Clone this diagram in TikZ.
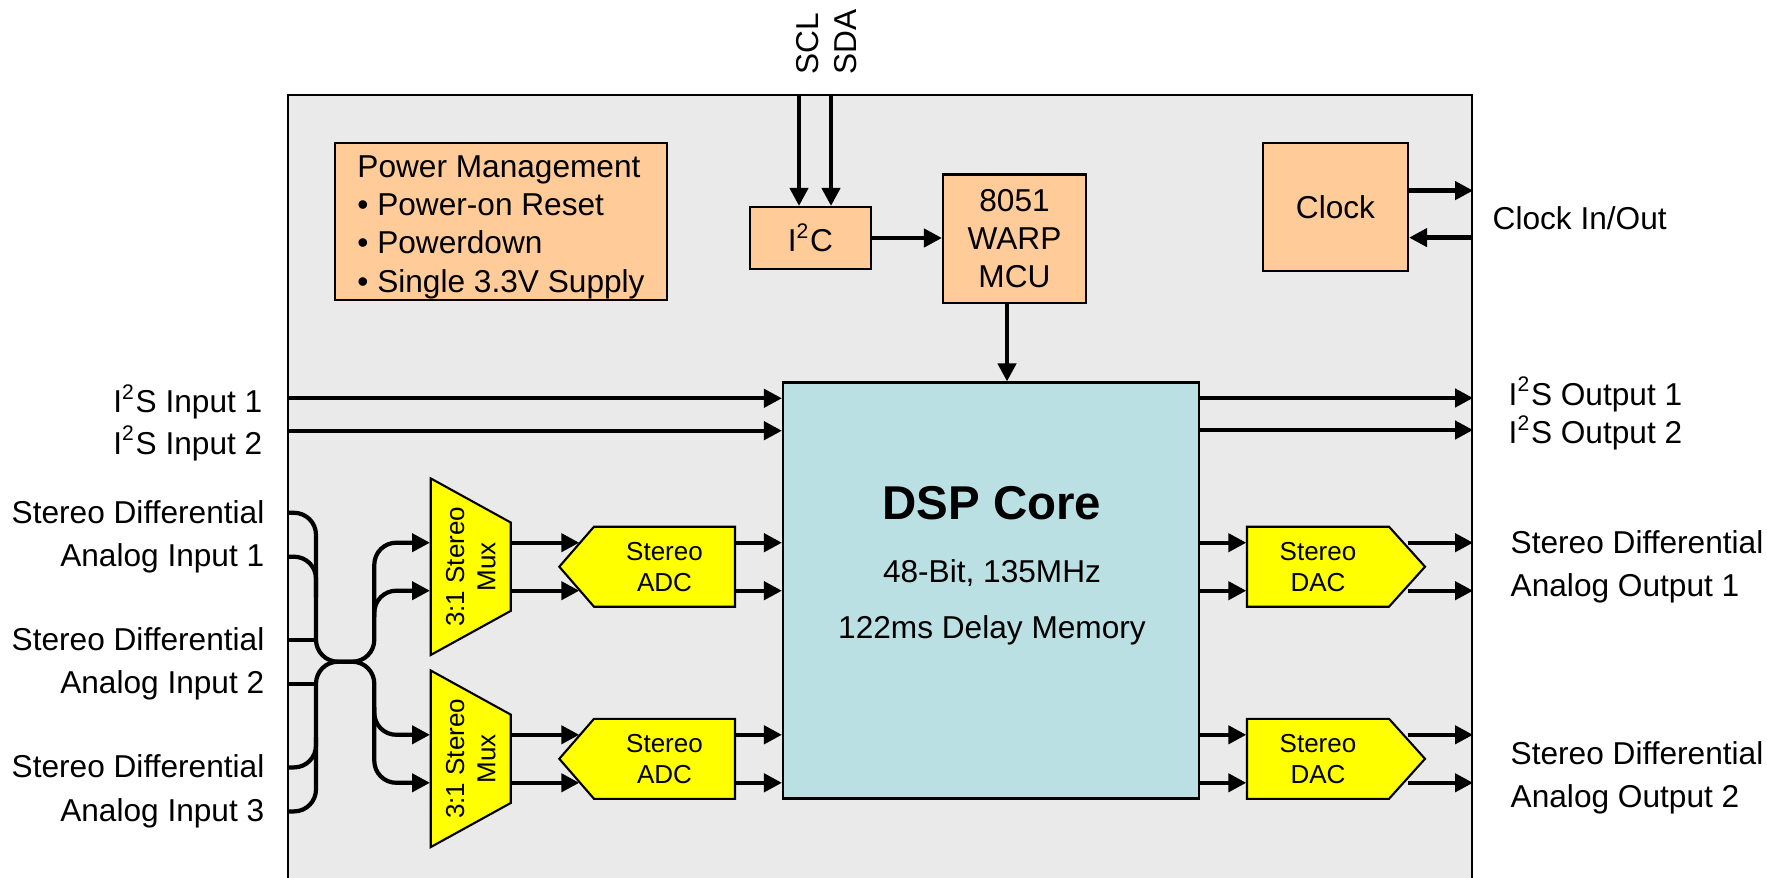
\documentclass[tikz,border=0pt]{standalone}
\usepackage{fontspec}
\setmainfont{Liberation Sans}
\usetikzlibrary{arrows.meta,positioning,calc}
\definecolor{Peach}{HTML}{FFCC99}
\definecolor{CoreBlue}{HTML}{BBE0E3}
\definecolor{ChipGrey}{HTML}{EAEAEA}
\definecolor{MuxYellow}{HTML}{FFFF00}
\tikzset{
  wire/.style={line width=1.2pt, rounded corners=0.22cm},
  sig/.style={wire, -{Triangle[length=0.18cm,width=0.18cm]}},
  lbl/.style={font=\fontsize{9}{12.4}\selectfont, inner sep=0pt},
  obox/.style={draw, line width=0.6pt, fill=Peach, font=\fontsize{9}{10.9}\selectfont, align=center, inner sep=0pt},
  ybox/.style={draw, line width=0.6pt, fill=MuxYellow},
  ytext/.style={font=\fontsize{7.4}{8.9}\selectfont, align=center, inner sep=0pt},
}

\begin{document}
\begin{tikzpicture}
    \useasboundingbox (0,0) rectangle (17.67,8.77);
    \clip (0,0) rectangle (17.67,8.77);
    % chip outline
    \node[draw, line width=0.6pt, fill=ChipGrey, minimum width=11.84cm, minimum height=8.1cm, inner sep=0pt] (chip) at (8.80,3.77) {};
    \node[obox, minimum width=3.32cm, minimum height=1.57cm] (power) at (5.01,6.555) {};
    \node[font=\fontsize{9}{10.9}\selectfont, align=left, inner sep=0pt] (powertext) at (5.01,6.50) {Power Management\\• Power-on Reset\\• Powerdown\\• Single 3.3V Supply};
    \node[obox, minimum width=1.21cm, minimum height=0.62cm] (i2c) at (8.105,6.39) {I\textsuperscript{2}C};
    \node[obox, minimum width=1.43cm, minimum height=1.285cm] (mcu) at (10.145,6.382) {8051\\WARP\\MCU};
    \node[obox, minimum width=1.45cm, minimum height=1.285cm] (clock) at (13.355,6.70) {Clock};
    \node[draw, line width=0.6pt, fill=CoreBlue, minimum size=4.16cm] (dsp) at (9.91,2.865) {};
    \node[font=\bfseries\fontsize{13.5}{16}\selectfont] (dsptitle) at (9.92,3.74) {DSP Core};
    \node[font=\fontsize{9}{10.9}\selectfont] (dspspeed) at (9.92,3.04) {48-Bit, 135MHz};
    \node[font=\fontsize{9}{10.9}\selectfont] (dspmem) at (9.92,2.47) {122ms Delay Memory};
    % control and clock
    \coordinate (scl) at ([xshift=-1.15mm]i2c.north);
    \coordinate (sda) at ([xshift=2.05mm]i2c.north);
    \draw[sig] (scl |- chip.north) -- (scl);
    \draw[sig] (sda |- chip.north) -- (sda);
    \node[rotate=90, anchor=west, align=left, inner sep=0pt, font=\fontsize{9}{10.8}\selectfont] (i2cbus) at (8.27,8.02) {SCL\\SDA};
    \draw[sig] (i2c.east) -- (i2c.east -| mcu.west);
    \coordinate (mcuout) at ([xshift=-0.75mm]mcu.south);
    \draw[sig] (mcuout) -- (mcuout |- dsp.north);
    \coordinate (clkout) at ([yshift=1.64mm]clock.east);
    \coordinate (clkin) at ([yshift=-3.06mm]clock.east);
    \draw[sig] (clkout) -- (clkout -| chip.east);
    \draw[sig] (clkin -| chip.east) -- (clkin);
    % analog paths
    \foreach \n/\y in {1/3.103,2/1.182} {
      \draw[ybox] (4.307,\y+0.883) -- (5.107,\y+0.442) -- (5.107,\y-0.442) -- (4.307,\y-0.883) -- cycle;
      \node[ytext, rotate=90, minimum width=1.767cm, minimum height=0.8cm] (mux\n) at (4.707,\y) {3:1 Stereo\\Mux};
      \draw[ybox] (5.593,\y) -- (5.94,\y+0.4) -- (7.35,\y+0.4) -- (7.35,\y-0.4) -- (5.94,\y-0.4) -- cycle;
      \node[ytext, minimum width=1.41cm, minimum height=0.8cm] (adc\n) at (6.645,\y) {Stereo\\ADC};
      \draw[ybox] (14.25,\y) -- (13.89,\y+0.4) -- (12.47,\y+0.4) -- (12.47,\y-0.4) -- (13.89,\y-0.4) -- cycle;
      \node[ytext, minimum width=1.42cm, minimum height=0.8cm] (dac\n) at (13.18,\y) {Stereo\\DAC};
      \foreach \d in {2.4,-2.4} {
        \coordinate (p) at ([yshift=\d mm]adc\n.west);
        \draw[sig] (p -| mux\n.south) -- ([xshift=-1.4mm]p);
        \coordinate (s) at ([yshift=\d mm]adc\n.east);
        \draw[sig] (s) -- (s -| dsp.west);
        \coordinate (q) at ([yshift=\d mm]dac\n.west);
        \draw[sig] (q -| dsp.east) -- (q);
        \coordinate (r) at ([yshift=\d mm, xshift=1.8mm]dac\n.east);
        \draw[sig] (r) -- (r -| chip.east);
      }
    }
    % input bus with crossover
    \coordinate (in1a) at (2.88,3.642);
    \coordinate (in1b) at (2.88,3.203);
    \coordinate (in2a) at (2.88,2.369);
    \coordinate (in2b) at (2.88,1.930);
    \coordinate (in3a) at (2.88,1.096);
    \coordinate (in3b) at (2.88,0.656);
    \coordinate (mx1a) at ([yshift=2.4mm]mux1.north);
    \coordinate (mx1b) at ([yshift=-2.4mm]mux1.north);
    \coordinate (mx2a) at ([yshift=2.4mm]mux2.north);
    \coordinate (mx2b) at ([yshift=-2.4mm]mux2.north);
    \draw[sig] (in1a) -- (3.16,3.642) -- (3.16,2.153) -- (3.743,2.153) -- (3.743,3.343) -- (mx1a);
    \draw[sig] (in3b) -- (3.16,0.656) -- (3.16,2.153) -- (3.743,2.153) -- (3.743,0.942) -- (mx2b);
    \draw[wire] (in1b) -- (3.16,3.203) -- (3.16,2.8);
    \draw[wire] (in2a) -- (3.16,2.369);
    \draw[wire] (in2b) -- (3.16,1.930);
    \draw[wire] (in3a) -- (3.16,1.096) -- (3.16,1.4);
    \draw[sig] (3.743,2.6) -- (3.743,2.863) -- (mx1b);
    \draw[sig] (3.743,1.7) -- (3.743,1.422) -- (mx2a);
    % digital audio
    \coordinate (i2sa) at (2.88,4.787);
    \coordinate (i2sb) at (2.88,4.463);
    \draw[sig] (i2sa) -- (i2sa -| dsp.west);
    \draw[sig] (i2sb) -- (i2sb -| dsp.west);
    \coordinate (i2sc) at ([yshift=1.925cm]dsp.east);
    \coordinate (i2sd) at ([yshift=1.605cm]dsp.east);
    \draw[sig] (i2sc) -- (i2sc -| chip.east);
    \draw[sig] (i2sd) -- (i2sd -| chip.east);
    % pin labels
    \node[lbl, anchor=east, align=right, font=\fontsize{9}{11.8}\selectfont] (i2sin) at (2.63,4.545) {I\textsuperscript{2}S Input 1\\I\textsuperscript{2}S Input 2};
    \node[lbl, anchor=east, align=right] (ain1) at (2.65,3.40) {Stereo Differential\\Analog Input 1};
    \node[lbl, anchor=east, align=right] (ain2) at (2.65,2.13) {Stereo Differential\\Analog Input 2};
    \node[lbl, anchor=east, align=right] (ain3) at (2.65,0.856) {Stereo Differential\\Analog Input 3};
    \node[lbl, anchor=west] (clkio) at (14.92,6.59) {Clock In/Out};
    \node[lbl, anchor=west, align=left, font=\fontsize{9}{10.9}\selectfont] (i2sout) at (15.08,4.634) {I\textsuperscript{2}S Output 1\\I\textsuperscript{2}S Output 2};
    \node[lbl, anchor=west, align=left] (aout1) at (15.10,3.10) {Stereo Differential\\Analog Output 1};
    \node[lbl, anchor=west, align=left] (aout2) at (15.10,0.99) {Stereo Differential\\Analog Output 2};
  \end{tikzpicture}
\end{document}
